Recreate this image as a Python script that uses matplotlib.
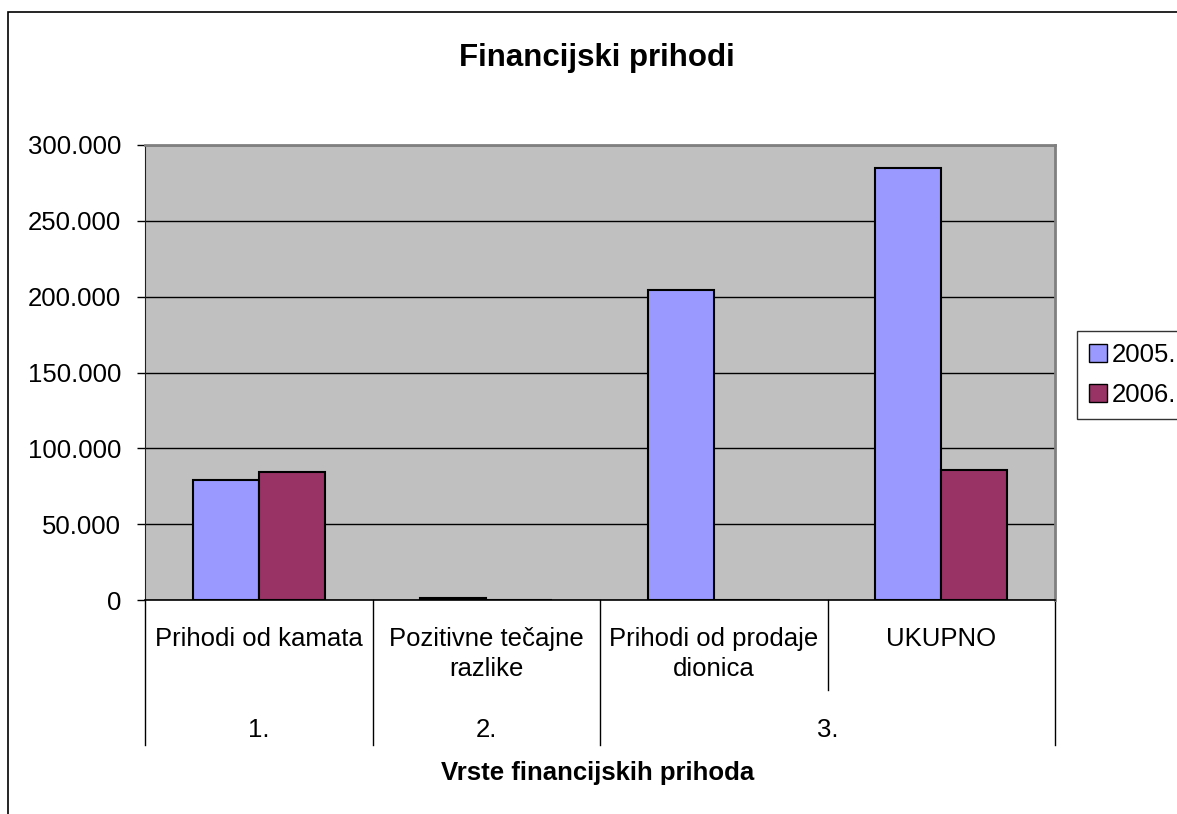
import matplotlib
matplotlib.use('Agg')
import matplotlib.pyplot as plt
from matplotlib.patches import Rectangle, Patch
import matplotlib.ticker as mtick

categories = ['Prihodi od kamata', 'Pozitivne tečajne\nrazlike', 'Prihodi od prodaje\ndionica', 'UKUPNO']
groups = ['1.', '2.', '3.']
group_spans = [(0, 0), (1, 1), (2, 3)]
series_names = ['2005.', '2006.']
values_2005 = [79100, 1200, 204400, 284800]
values_2006 = [84100, 0, 0, 85900]
y_ticks = [0, 50000, 100000, 150000, 200000, 250000, 300000]

plt.rcParams['font.family'] = ['Liberation Sans', 'DejaVu Sans']

W, H = 1177, 814
fig = plt.figure(figsize=(W / 100, H / 100), dpi=100)
ax = fig.add_axes([145 / W, 1 - 600 / H, 910 / W, 455 / H])
ax.set_facecolor('#C0C0C0')

# outer chart border (runs off the right and bottom edges)
fig.patches.append(Rectangle((8 / W, -0.05), 1.2, 1 - 12 / H + 0.05, transform=fig.transFigure,
                             fill=False, edgecolor='black', linewidth=1.2))

x = list(range(len(categories)))
bw = 0.29
ax.bar([i - bw for i in x], values_2005, width=bw, align='edge', color='#9999FF',
       edgecolor='black', linewidth=1.5, zorder=3)
ax.bar(x, values_2006, width=bw, align='edge', color='#993366',
       edgecolor='black', linewidth=1.5, zorder=3)

ax.set_xlim(-0.5, 3.5)
ax.set_ylim(0, 300000)
ax.set_yticks(y_ticks)
ax.yaxis.set_major_formatter(mtick.FuncFormatter(lambda v, p: f'{int(v):,}'.replace(',', '.')))
ax.tick_params(axis='y', labelsize=18.5, length=6, width=1, direction='out', pad=11, color='black')
ax.set_xticks([])
ax.grid(axis='y', color='black', linewidth=1, zorder=1)
ax.set_axisbelow(True)

for s in ['top', 'right']:
    ax.spines[s].set_color('#808080')
    ax.spines[s].set_linewidth(2)
ax.spines['left'].set_color('#202020')
ax.spines['bottom'].set_color('black')
ax.spines['bottom'].set_linewidth(1.2)
ax.spines['bottom'].set_zorder(4)

trans = ax.get_xaxis_transform()
def ay(px):
    return -(px - 600) / 455

# category separators under the axis
for xs in [-0.5, 0.5, 1.5, 3.5]:
    ax.plot([xs, xs], [0, ay(745)], color='black', linewidth=1, transform=trans, clip_on=False)
ax.plot([2.5, 2.5], [0, ay(690)], color='black', linewidth=1, transform=trans, clip_on=False)

for i, c in enumerate(categories):
    ax.text(i, ay(627), c, transform=trans, ha='center', va='top', fontsize=18.5, linespacing=1.3)
for g, (a, b) in zip(groups, group_spans):
    ax.text((a + b) / 2, ay(730), g, transform=trans, ha='center', va='center', fontsize=18.5)

fig.text(597 / W, 1 - 58 / H, 'Financijski prihodi', ha='center', va='center',
         fontsize=22.5, fontweight='bold')
fig.text(598 / W, 1 - 773 / H, 'Vrste financijskih prihoda', ha='center', va='center',
         fontsize=18.5, fontweight='bold')

handles = [Patch(facecolor='#9999FF', edgecolor='black'), Patch(facecolor='#993366', edgecolor='black')]
leg = fig.legend(handles, series_names, loc='upper left', bbox_to_anchor=(1077 / W, 1 - 331 / H),
                 fontsize=18.5, frameon=True, fancybox=False, handlelength=0.7, handleheight=0.7,
                 handletextpad=0.2, borderpad=0.45, labelspacing=0.65, borderaxespad=0)
leg.get_frame().set_edgecolor('black')
leg.get_frame().set_linewidth(1)

fig.savefig('out.png', dpi=100)
